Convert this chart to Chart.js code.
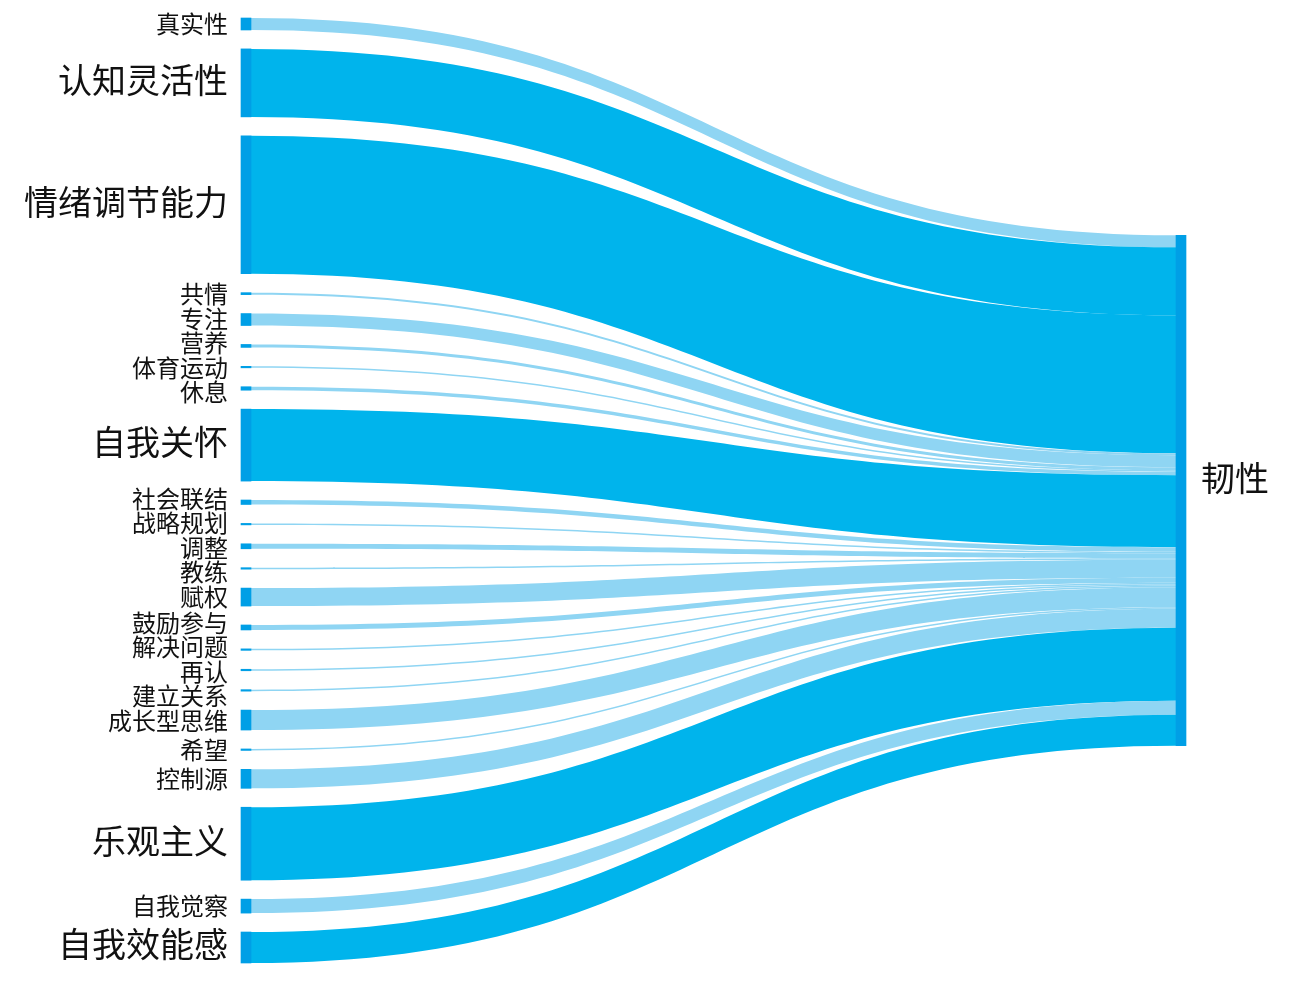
<!DOCTYPE html>
<html lang="zh">
<head>
<meta charset="utf-8">
<title>韧性的构成因素</title>
<script src="https://cdn.jsdelivr.net/npm/chart.js@4.4.1/dist/chart.umd.min.js"></script>
<style>
  html, body { margin: 0; padding: 0; background: #ffffff; }
  #wrap { width: 1293px; height: 983px; }
</style>
</head>
<body>
<div id="wrap"><canvas id="chart" width="1293" height="983"></canvas></div>
<script>
// Source factors (left column), top to bottom
const factors = [
  '真实性', '认知灵活性', '情绪调节能力', '共情', '专注', '营养', '体育运动', '休息',
  '自我关怀', '社会联结', '战略规划', '调整', '教练', '赋权', '鼓励参与', '解决问题',
  '再认', '建立关系', '成长型思维', '希望', '控制源', '乐观主义', '自我觉察', '自我效能感'
];

// Contribution of each factor to the outcome (same order as factors)
const contributions = [
  12, 68, 138, 2, 12, 3, 1.5, 3.5,
  72, 4.5, 1.5, 5, 1.5, 18, 5, 1.5,
  1.5, 1.5, 20, 1.5, 19, 73, 14, 31
];

// Single target node (right column)
const outcome = '韧性';

// Layout / style settings
const NODE_PAD = 18.9;        // vertical gap between source nodes, in value units
const MAJOR = 25;             // flows at or above this size use the strong tone
const NODE_COLOR = '#009fe6';
const FLOW_MAJOR = '#00b4ec';
const FLOW_MINOR = '#8fd5f3';
const FONT = '"Noto Sans CJK SC", "Noto Sans", sans-serif';
const BIG_FONT = 34;
const SMALL_FONT = 24;
const LABEL_GAP = 0.5;        // minimum space between neighbouring labels, px

// Stack source nodes with constant padding; centre the target node on the column
const srcTop = [];
let cursor = 0;
contributions.forEach(v => { srcTop.push(cursor); cursor += v + NODE_PAD; });
const columnSpan = cursor - NODE_PAD;
const totalFlow = contributions.reduce((a, b) => a + b, 0);
const targetTop = (columnSpan - totalFlow) / 2;

// Nodes are floating bars: sources at x = 0, target at x = 1
const nodeBars = factors.map((f, i) => ({ x: 0, y: [srcTop[i], srcTop[i] + contributions[i]] }))
  .concat([{ x: 1, y: [targetTop, targetTop + totalFlow] }]);

// Spread labels that would collide: overlapping runs are merged into clusters,
// each cluster centred on the mean of its wanted positions.
function spreadLabels(wanted, sizes) {
  let clusters = wanted.map((y, i) => ({ first: i, last: i, sumWant: y, count: 1 }));
  const height = c => {
    let h = 0;
    for (let k = c.first; k <= c.last; k++) h += sizes[k] + (k > c.first ? LABEL_GAP : 0);
    return h;
  };
  const place = c => {
    const h = height(c);
    // anchor so that the mean of label centres equals the mean of wanted centres
    let offs = [], acc = 0;
    for (let k = c.first; k <= c.last; k++) {
      offs.push(acc + sizes[k] / 2);
      acc += sizes[k] + LABEL_GAP;
    }
    const meanOff = offs.reduce((a, b) => a + b, 0) / offs.length;
    c.top = c.sumWant / c.count - meanOff;
    c.bottom = c.top + h;
    c.offs = offs;
  };
  clusters.forEach(place);
  let merged = true;
  while (merged) {
    merged = false;
    for (let j = 0; j < clusters.length - 1; j++) {
      const a = clusters[j], b = clusters[j + 1];
      if (a.bottom + LABEL_GAP > b.top) {
        const m = { first: a.first, last: b.last, sumWant: a.sumWant + b.sumWant, count: a.count + b.count };
        place(m);
        clusters.splice(j, 2, m);
        merged = true;
        break;
      }
    }
  }
  const out = [];
  clusters.forEach(c => c.offs.forEach(o => out.push(c.top + o)));
  return out;
}

// Bezier ribbons from every source node into the target node
const sankeyLinks = {
  id: 'sankeyLinks',
  beforeDatasetsDraw(chart) {
    const { ctx } = chart;
    const yScale = chart.scales.y;
    const bars = chart.getDatasetMeta(0).data;
    const tgt = bars[bars.length - 1].getProps(['x', 'width'], true);
    const xR = tgt.x - tgt.width / 2;
    let acc = targetTop;
    ctx.save();
    contributions.forEach((v, i) => {
      const src = bars[i].getProps(['x', 'width'], true);
      const xL = src.x + src.width / 2;
      const l0 = yScale.getPixelForValue(srcTop[i]);
      const l1 = yScale.getPixelForValue(srcTop[i] + v);
      const r0 = yScale.getPixelForValue(acc);
      const r1 = yScale.getPixelForValue(acc + v);
      acc += v;
      const xm = (xL + xR) / 2;
      ctx.beginPath();
      ctx.moveTo(xL, l0);
      ctx.bezierCurveTo(xm, l0, xm, r0, xR, r0);
      ctx.lineTo(xR, r1);
      ctx.bezierCurveTo(xm, r1, xm, l1, xL, l1);
      ctx.closePath();
      ctx.fillStyle = v >= MAJOR ? FLOW_MAJOR : FLOW_MINOR;
      ctx.fill();
    });
    ctx.restore();
  }
};

// Node names beside the bars
const nodeLabels = {
  id: 'nodeLabels',
  afterDatasetsDraw(chart) {
    const { ctx } = chart;
    const yScale = chart.scales.y;
    const bars = chart.getDatasetMeta(0).data;
    const sizes = contributions.map(v => (v >= MAJOR ? BIG_FONT : SMALL_FONT));
    const wanted = contributions.map((v, i) =>
      yScale.getPixelForValue(srcTop[i] + v / 2) - (v >= MAJOR ? 3 : 0));
    const ys = spreadLabels(wanted, sizes);
    ctx.save();
    ctx.fillStyle = '#111111';
    ctx.textBaseline = 'middle';
    ctx.textAlign = 'right';
    factors.forEach((name, i) => {
      const b = bars[i].getProps(['x', 'width'], true);
      ctx.font = sizes[i] + 'px ' + FONT;
      ctx.fillText(name, b.x - b.width / 2 - 13, ys[i]);
    });
    const t = bars[bars.length - 1].getProps(['x', 'width'], true);
    const yt = yScale.getPixelForValue(targetTop + totalFlow / 2);
    ctx.textAlign = 'left';
    ctx.font = BIG_FONT + 'px ' + FONT;
    ctx.fillText(outcome, t.x + t.width / 2 + 15, yt - 12);
    ctx.restore();
  }
};

new Chart(document.getElementById('chart'), {
  type: 'bar',
  data: {
    datasets: [{
      data: nodeBars,
      backgroundColor: NODE_COLOR,
      borderWidth: 0,
      barThickness: 10,
      clip: false
    }]
  },
  options: {
    responsive: false,
    animation: false,
    devicePixelRatio: 1,
    layout: { padding: { left: 246, right: 112, top: 18, bottom: 20 } },
    plugins: { legend: { display: false }, tooltip: { enabled: false } },
    scales: {
      x: { type: 'linear', min: 0, max: 1, offset: false, display: false },
      y: { type: 'linear', min: 0, max: columnSpan, reverse: true, display: false }
    }
  },
  plugins: [sankeyLinks, nodeLabels]
});
</script>
</body>
</html>
